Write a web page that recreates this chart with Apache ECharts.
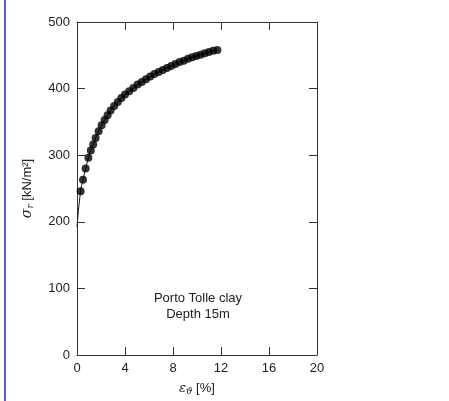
<!DOCTYPE html>
<html>
<head>
<meta charset="utf-8">
<script src="https://cdn.jsdelivr.net/npm/echarts@6/dist/echarts.min.js"></script>
<style>
  html, body { margin: 0; padding: 0; background: #fff; }
  #chart { width: 449px; height: 401px; }
</style>
</head>
<body>
<div id="chart"></div>
<script>
// strain e_theta [%] and radial stress sigma_r [kN/m2]
var strain = [0.3, 0.5, 0.72, 0.95, 1.15, 1.35, 1.55, 1.8, 2.05, 2.3, 2.55, 2.8, 3.1, 3.4, 3.7, 4.0,
  4.35, 4.7, 5.05, 5.4, 5.75, 6.1, 6.45, 6.8, 7.15, 7.5, 7.85, 8.2, 8.55, 8.9, 9.25, 9.6, 9.95,
  10.3, 10.65, 11.0, 11.35, 11.7];
var stress = [246, 263, 280, 296, 307, 316, 326, 336, 345, 353, 360, 367, 374, 380, 386, 391,
  396, 401, 406, 410, 414, 418, 422, 425, 428, 431, 434, 437, 440, 442, 445, 447, 449,
  451, 453, 455, 457, 458];
var startPoint = [0, 192];
var xTicks = [0, 4, 8, 12, 16, 20];
var yTicks = [0, 100, 200, 300, 400, 500];
var noteLines = ["Porto Tolle clay", "Depth 15m"];

var points = strain.map(function (x, i) { return [x, stress[i]]; });
var font = "Liberation Sans, Arial, sans-serif";
var ink = "#222";

var mychart = echarts.init(document.getElementById("chart"));

function axisBase(extra) {
  var a = {
    type: "value",
    axisLine: { show: true, onZero: false, lineStyle: { color: "#333", width: 1 } },
    axisTick: { show: true, inside: true, length: 8, lineStyle: { color: "#333" } },
    splitLine: { show: false },
    axisLabel: { color: ink, fontFamily: font, fontSize: 13 }
  };
  for (var k in extra) a[k] = extra[k];
  return a;
}

var option = {
  animation: false,
  grid: { left: 77, right: 132, top: 22, bottom: 42, containLabel: false },
  xAxis: [
    axisBase({
      position: "bottom", min: xTicks[0], max: xTicks[xTicks.length - 1], interval: 4,
      axisLabel: { color: ink, fontFamily: font, fontSize: 13, margin: 7 },
      name: "{e|ε}{s|ϑ} [%]", nameLocation: "middle", nameGap: 26,
      nameTextStyle: {
        color: ink, fontFamily: font, fontSize: 13,
        rich: {
          e: { fontFamily: "DejaVu Serif, serif", fontStyle: "italic", fontSize: 13, color: ink },
          s: { fontFamily: "DejaVu Serif, serif", fontStyle: "italic", fontSize: 9, color: ink, verticalAlign: "bottom", padding: [6, 0, 0, 0] }
        }
      }
    }),
    axisBase({
      position: "top", min: xTicks[0], max: xTicks[xTicks.length - 1], interval: 4,
      axisLabel: { show: false }
    })
  ],
  yAxis: [
    axisBase({
      position: "left", min: yTicks[0], max: yTicks[yTicks.length - 1], interval: 100,
      axisLabel: { color: ink, fontFamily: font, fontSize: 13, margin: 7 },
      name: "{g|σ}{s|r} [kN/m²]", nameLocation: "middle", nameGap: 42, nameRotate: 90,
      nameTextStyle: {
        color: ink, fontFamily: font, fontSize: 13,
        rich: {
          g: { fontFamily: "DejaVu Serif, serif", fontStyle: "italic", fontSize: 14, color: ink },
          s: { fontFamily: "DejaVu Serif, serif", fontStyle: "italic", fontSize: 9, color: ink, verticalAlign: "bottom", padding: [6, 0, 0, 0] }
        }
      }
    }),
    axisBase({
      position: "right", min: yTicks[0], max: yTicks[yTicks.length - 1], interval: 100,
      axisLabel: { show: false }
    })
  ],
  graphic: [
    {
      type: "rect", left: 4, top: 0,
      shape: { width: 2, height: 401 },
      style: { fill: "#5a5ac8" }
    },
    {
      type: "text", left: 152, top: 290,
      style: {
        text: noteLines.join("\n"), fill: ink, font: "13px " + font,
        textAlign: "center", lineHeight: 16, width: 92
      }
    }
  ],
  series: [
    {
      type: "line",
      data: [startPoint].concat(points),
      showSymbol: false,
      smooth: true,
      lineStyle: { color: "#111", width: 1 },
      z: 2
    },
    {
      type: "scatter",
      data: points,
      symbol: "circle",
      symbolSize: 8,
      itemStyle: { color: "#000" },
      z: 3
    }
  ]
};
mychart.setOption(option, true);
</script>
</body>
</html>
